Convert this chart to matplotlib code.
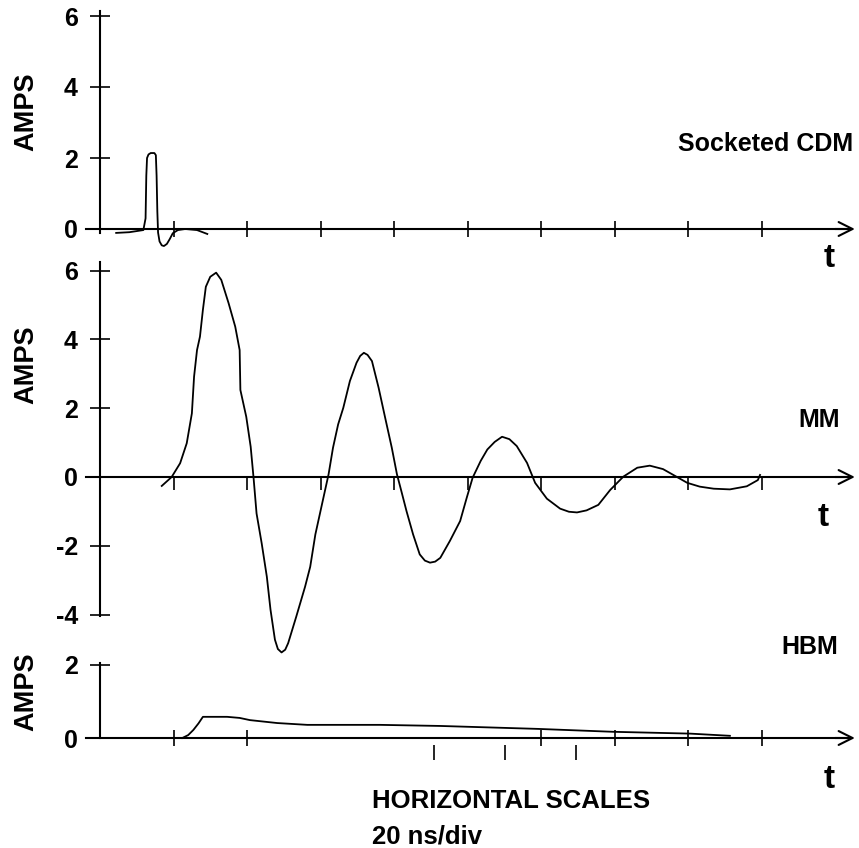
import matplotlib.pyplot as plt

W, H = 859, 848
PX_PER_DIV = 73.5      # one horizontal division (20 ns) in pixels
T0_PX = 100            # pixel column of the vertical axes

# Socketed CDM trace (t in divisions, current in amps)
cdm_t = [0.22, 0.40, 0.59, 0.62, 0.63, 0.64, 0.66, 0.69, 0.74, 0.76, 0.77, 0.78,
         0.79, 0.81, 0.84, 0.87, 0.91, 0.95, 0.99, 1.06, 1.16, 1.32, 1.46]
cdm_a = [-0.11, -0.09, -0.03, 0.3, 1.5, 2.0, 2.1, 2.14, 2.14, 2.08, 1.5, 0.5,
         -0.1, -0.35, -0.46, -0.48, -0.42, -0.28, -0.12, -0.03, 0.0, -0.03, -0.14]

# MM trace
mm_t = [0.84, 0.975, 1.09, 1.18, 1.25, 1.28, 1.32, 1.36, 1.40, 1.44, 1.50, 1.58,
        1.65, 1.75, 1.84, 1.90, 1.91, 1.99, 2.05, 2.09, 2.13, 2.20, 2.27, 2.32,
        2.38, 2.42, 2.47, 2.52, 2.56, 2.67, 2.79, 2.86, 2.93, 3.04, 3.11, 3.17,
        3.24, 3.31, 3.40, 3.49, 3.54, 3.59, 3.64, 3.70, 3.79, 3.88, 3.97, 4.04,
        4.10, 4.17, 4.26, 4.35, 4.42, 4.49, 4.56, 4.63, 4.76, 4.90, 4.99, 5.07,
        5.18, 5.27, 5.37, 5.47, 5.57, 5.67, 5.81, 5.92, 6.08, 6.26, 6.38, 6.49,
        6.62, 6.78, 6.94, 7.12, 7.31, 7.48, 7.66, 7.85, 7.99, 8.16, 8.35, 8.57,
        8.80, 8.95, 8.98]
mm_a = [-0.26, 0.0, 0.4, 0.98, 1.85, 2.92, 3.69, 4.08, 4.86, 5.53, 5.82, 5.94,
        5.73, 5.05, 4.37, 3.69, 2.53, 1.75, 0.88, -0.04, -1.06, -1.93, -2.90, -3.86,
        -4.73, -5.0, -5.10, -5.02, -4.83, -4.06, -3.19, -2.61, -1.67, -0.60, 0.08, 0.85,
        1.53, 2.01, 2.79, 3.32, 3.52, 3.61, 3.55, 3.37, 2.60, 1.72, 0.85, 0.08,
        -0.41, -0.99, -1.67, -2.25, -2.43, -2.49, -2.46, -2.35, -1.86, -1.28, -0.60, -0.02,
        0.47, 0.80, 1.02, 1.17, 1.10, 0.90, 0.41, -0.17, -0.63, -0.92, -1.01, -1.03,
        -0.97, -0.81, -0.38, 0.01, 0.27, 0.33, 0.23, 0.0, -0.17, -0.28, -0.34, -0.36,
        -0.27, -0.09, 0.06]

# HBM trace
hbm_t = [1.12, 1.20, 1.27, 1.34, 1.40, 1.73, 1.90, 2.04, 2.41, 2.82, 3.81, 4.63,
         5.95, 6.98, 8.03, 8.57]
hbm_a = [0.0, 0.08, 0.22, 0.40, 0.58, 0.58, 0.55, 0.49, 0.41, 0.36, 0.36, 0.33,
         0.25, 0.17, 0.12, 0.06]

cdm_yticks = [0, 2, 4, 6]
mm_yticks = [-4, -2, 0, 2, 4, 6]
hbm_yticks = [0, 2]
cdm_xticks = [1, 2, 3, 4, 5, 6, 7, 8, 9]
mm_xticks = [1, 2, 3, 4, 5, 6, 7, 8, 9]
hbm_xticks = [1, 2, 6, 7, 8, 9]
hbm_stray_ticks = [4.54, 5.51, 6.48]

plt.rcParams['font.family'] = ['Liberation Sans', 'DejaVu Sans']
plt.rcParams['font.weight'] = 'bold'
plt.rcParams['axes.unicode_minus'] = False

fig = plt.figure(figsize=(W / 100, H / 100), dpi=100)


def panel(top_px, bot_px, zero_px, px_per_amp, y_lo, y_hi, yticks, xticks, xdir):
    ax = fig.add_axes([0, 1 - bot_px / H, 1, (bot_px - top_px) / H])
    ax.patch.set_visible(False)
    ax.set_xlim(-T0_PX / PX_PER_DIV, (W - T0_PX) / PX_PER_DIV)
    ax.set_ylim(-(bot_px - zero_px) / px_per_amp, (zero_px - top_px) / px_per_amp)
    for side in ["top", "right"]:
        ax.spines[side].set_visible(False)
    ax.spines["left"].set_position(("data", 0))
    ax.spines["bottom"].set_position(("data", 0))
    ax.spines["left"].set_bounds(y_lo, y_hi)
    ax.spines["bottom"].set_bounds(-0.19, 10.2)
    ax.spines["left"].set_linewidth(1.5)
    ax.spines["bottom"].set_linewidth(1.5)
    ax.annotate("", xy=(10.27, 0), xytext=(10.0, 0),
                arrowprops=dict(arrowstyle="->", lw=1.5, mutation_scale=25,
                                shrinkA=0, shrinkB=0))
    ax.set_yticks(yticks)
    ax.set_xticks(xticks)
    ax.tick_params(axis="y", direction="inout", length=14, width=1.2, pad=9,
                   labelsize=18)
    ax.tick_params(axis="x", direction=xdir, length=12 if xdir == "inout" else 9,
                   width=1.2, labelbottom=False)
    return ax


ax1 = panel(0, 250, 229, 35.5, -0.12, 6.14, cdm_yticks, cdm_xticks, "inout")
ax1.plot(cdm_t, cdm_a, color="black", lw=1.3, clip_on=False)

ax2 = panel(250, 665, 477, 34.4, -4.05, 6.25, mm_yticks, mm_xticks, "out")
ax2.plot(mm_t, mm_a, color="black", lw=1.3, clip_on=False)

ax3 = panel(640, 848, 738, 36.5, 0, 2.05, hbm_yticks, hbm_xticks, "inout")
ax3.plot(hbm_t, hbm_a, color="black", lw=1.3, clip_on=False)
ax3.vlines(hbm_stray_ticks, -0.6, -0.19, color="black", lw=1.2)


def label(x, y, s, size=18, **kw):
    fig.text(x / W, 1 - y / H, s, fontsize=size, fontweight="bold", **kw)


for yc in [112, 365, 692]:
    label(26, yc, "AMPS", size=19.5, rotation=90, ha="center", va="center")

label(853, 151, "Socketed CDM", ha="right", va="baseline")
label(840, 427, "MM", ha="right", va="baseline")
label(838, 654, "HBM", ha="right", va="baseline")
for xc, yb in [(829, 267), (823, 526), (829, 788)]:
    label(xc, yb, "t", size=24, ha="center", va="baseline")
label(372, 808, "HORIZONTAL SCALES", size=18.5, ha="left", va="baseline")
label(372, 843, "20 ns/div", size=18.5, ha="left", va="baseline")

fig.savefig("out.png", dpi=100)
